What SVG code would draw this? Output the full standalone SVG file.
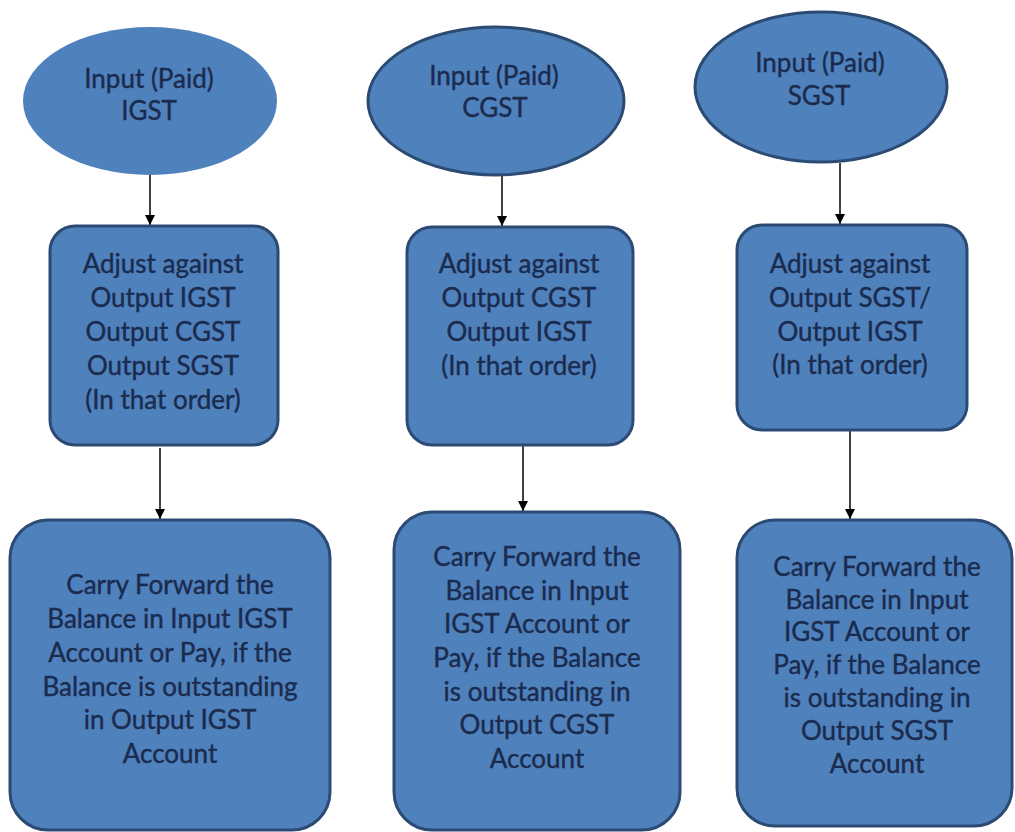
<svg xmlns="http://www.w3.org/2000/svg" width="1015" height="832" viewBox="0 0 1015 832">
<defs>
<marker id="arr" viewBox="0 0 10 10" refX="10" refY="5" markerWidth="10" markerHeight="10" markerUnits="userSpaceOnUse" orient="auto">
<path d="M0,0 L10,5 L0,10 z" fill="#000"/>
</marker>
<style>
.shape{fill:#4f81bd;stroke:#2c4b74;stroke-width:3}
.noline{fill:#4f81bd;stroke:none}
.t{font-family:Lato,"Open Sans","Liberation Sans",sans-serif;font-size:26px;fill:#1b2b4e;stroke:#1b2b4e;stroke-width:0.4;text-anchor:middle;dominant-baseline:central}
.c{stroke:#000;stroke-width:1.5;fill:none;marker-end:url(#arr)}
</style>
</defs>
<rect width="1015" height="832" fill="#fff"/>
<g id="connectors">
<line class="c" x1="150" y1="175" x2="150" y2="225"/>
<line class="c" x1="502" y1="176" x2="502" y2="226"/>
<line class="c" x1="840" y1="163" x2="840" y2="224"/>
<line class="c" x1="160" y1="448" x2="160" y2="519"/>
<line class="c" x1="523" y1="446" x2="523" y2="511"/>
<line class="c" x1="850" y1="431" x2="850" y2="519"/>
</g>
<g id="input-igst">
<ellipse class="noline" cx="150" cy="101" rx="127" ry="74"/>
<text class="t" x="149" y="78">Input (Paid)</text>
<text class="t" x="149" y="110">IGST</text>
</g>
<g id="input-cgst">
<ellipse class="shape" cx="496" cy="101" rx="128" ry="74"/>
<text class="t" x="494" y="75">Input (Paid)</text>
<text class="t" x="495" y="107">CGST</text>
</g>
<g id="input-sgst">
<ellipse class="shape" cx="821" cy="87" rx="126" ry="75"/>
<text class="t" x="820" y="62">Input (Paid)</text>
<text class="t" x="819" y="95">SGST</text>
</g>
<g id="adjust-igst">
<rect class="shape" x="50" y="226" width="228" height="219" rx="25"/>
<text class="t" x="163" y="263">Adjust against</text>
<text class="t" x="163" y="297">Output IGST</text>
<text class="t" x="163" y="331">Output CGST</text>
<text class="t" x="163" y="365">Output SGST</text>
<text class="t" x="163" y="399">(In that order)</text>
</g>
<g id="adjust-cgst">
<rect class="shape" x="407" y="227" width="226" height="218" rx="25"/>
<text class="t" x="519" y="263">Adjust against</text>
<text class="t" x="519" y="297">Output CGST</text>
<text class="t" x="519" y="331">Output IGST</text>
<text class="t" x="519" y="365">(In that order)</text>
</g>
<g id="adjust-sgst">
<rect class="shape" x="737" y="225" width="230" height="205" rx="25"/>
<text class="t" x="850" y="263">Adjust against</text>
<text class="t" x="850" y="297">Output SGST/</text>
<text class="t" x="850" y="331">Output IGST</text>
<text class="t" x="850" y="364">(In that order)</text>
</g>
<g id="carry-igst">
<rect class="shape" x="10" y="520" width="320" height="310" rx="38"/>
<text class="t" x="170" y="584">Carry Forward the</text>
<text class="t" x="170" y="618">Balance in Input IGST</text>
<text class="t" x="170" y="652">Account or Pay, if the</text>
<text class="t" x="170" y="686">Balance is outstanding</text>
<text class="t" x="170" y="719">in Output IGST</text>
<text class="t" x="170" y="753">Account</text>
</g>
<g id="carry-cgst">
<rect class="shape" x="394" y="512" width="286" height="318" rx="38"/>
<text class="t" x="537" y="556">Carry Forward the</text>
<text class="t" x="537" y="590">Balance in Input</text>
<text class="t" x="537" y="623">IGST Account or</text>
<text class="t" x="537" y="657">Pay, if the Balance</text>
<text class="t" x="537" y="691">is outstanding in</text>
<text class="t" x="537" y="724">Output CGST</text>
<text class="t" x="537" y="758">Account</text>
</g>
<g id="carry-sgst">
<rect class="shape" x="737" y="520" width="275" height="306" rx="38"/>
<text class="t" x="877" y="566">Carry Forward the</text>
<text class="t" x="877" y="599">Balance in Input</text>
<text class="t" x="877" y="631">IGST Account or</text>
<text class="t" x="877" y="664">Pay, if the Balance</text>
<text class="t" x="877" y="697">is outstanding in</text>
<text class="t" x="877" y="730">Output SGST</text>
<text class="t" x="877" y="763">Account</text>
</g>
</svg>
